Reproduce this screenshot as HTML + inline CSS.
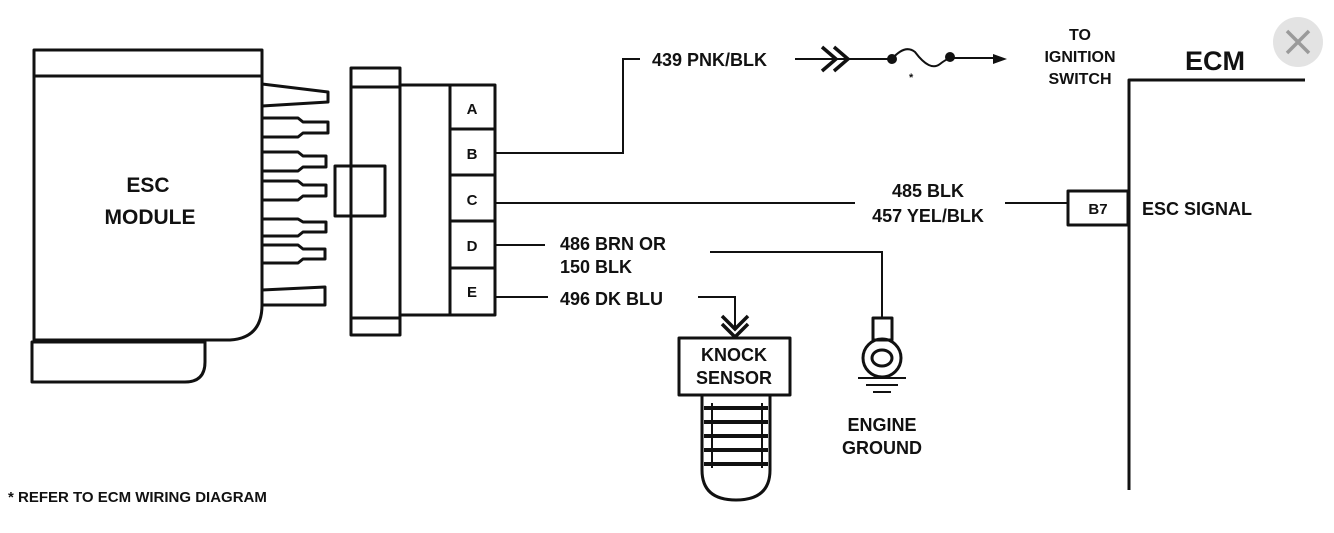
<!DOCTYPE html>
<html><head><style>
html,body{margin:0;padding:0;background:#fff;}
svg{display:block;}
text{font-family:"Liberation Sans",sans-serif;font-weight:bold;fill:#111;}
</style></head><body>
<svg width="1334" height="533" viewBox="0 0 1334 533" xmlns="http://www.w3.org/2000/svg">
<g fill="none" stroke="#111" stroke-width="3" stroke-linejoin="round">
<rect x="34" y="50" width="228" height="26"/>
<path d="M34 76 H262 V305 Q262 338 230 340 H34 Z"/>
<path d="M32 342 H205 V362 Q205 382 185 382 H32 Z"/>
<path d="M262 84 L328 92 V102 L262 106"/>
<path d="M262 118 H298 L303 122 H328 V133 H303 L298 137 H262"/>
<path d="M262 152 H298 L303 156 H326 V167 H303 L298 171 H262"/>
<path d="M262 181 H298 L303 185 H326 V196 H303 L298 200 H262"/>
<path d="M262 219 H298 L303 222 H326 V232 H303 L298 236 H262"/>
<path d="M262 245 H298 L303 249 H325 V259 H303 L298 263 H262"/>
<path d="M262 290 L325 287 V305 L262 305"/>
<rect x="351" y="68" width="49" height="267"/>
<line x1="351" y1="87" x2="400" y2="87"/>
<line x1="351" y1="318" x2="400" y2="318"/>
<rect x="335" y="166" width="50" height="50"/>
<rect x="400" y="85" width="95" height="230"/>
<line x1="450" y1="85" x2="450" y2="315"/>
<line x1="450" y1="129" x2="495" y2="129"/>
<line x1="450" y1="175" x2="495" y2="175"/>
<line x1="450" y1="221" x2="495" y2="221"/>
<line x1="450" y1="268" x2="495" y2="268"/>
<path d="M1129 490 V80 H1305"/>
<rect x="1068" y="191" width="60" height="34"/>
<rect x="679" y="338" width="111" height="57"/>
<path d="M702 395 V470 Q702 500 736 500 Q770 500 770 470 V395"/>
<path d="M704 408 H768 M704 422 H768 M704 436 H768 M704 450 H768 M704 464 H768" stroke-width="4"/>
<path d="M712 403 V468 M762 403 V468" stroke-width="2"/>
<rect x="873" y="318" width="19" height="22"/>
<circle cx="882" cy="358" r="19"/>
<ellipse cx="882" cy="358" rx="10" ry="8"/>
</g>
<g fill="none" stroke="#111" stroke-width="2">
<path d="M495 153 H623 V59 H640"/>
<path d="M795 59 H890"/>
<path d="M822 47 L836 59 L822 71 M834 47 L848 59 L834 71" stroke-width="3.5"/>
<path d="M892 59 Q905 44 915 52 Q930 72 940 64 Q945 60 950 58 H1000"/>
<path d="M495 203 H855 M1005 203 H1068"/>
<path d="M495 245 H545 M710 252 H882 V318"/>
<path d="M495 297 H548 M698 297 H735 V330"/>
<path d="M722 316 L735 329 L748 316 M722 324 L735 337 L748 324" stroke-width="3.5"/>
<path d="M858 378 H906 M866 385 H898 M873 392 H891"/>
</g>
<circle cx="892" cy="59" r="5" fill="#111"/>
<circle cx="950" cy="57" r="5" fill="#111"/>
<path d="M1007 59 L993 54 L993 64 Z" fill="#111"/>
<g font-size="18">
<text x="148" y="192" text-anchor="middle" font-size="21">ESC</text>
<text x="150" y="224" text-anchor="middle" font-size="21">MODULE</text>
<text x="472" y="114" text-anchor="middle" font-size="15">A</text>
<text x="472" y="159" text-anchor="middle" font-size="15">B</text>
<text x="472" y="205" text-anchor="middle" font-size="15">C</text>
<text x="472" y="251" text-anchor="middle" font-size="15">D</text>
<text x="472" y="297" text-anchor="middle" font-size="15">E</text>
<text x="652" y="66">439 PNK/BLK</text>
<text x="909" y="81" font-size="11">*</text>
<text x="1080" y="40" text-anchor="middle" font-size="16">TO</text>
<text x="1080" y="62" text-anchor="middle" font-size="16">IGNITION</text>
<text x="1080" y="84" text-anchor="middle" font-size="16">SWITCH</text>
<text x="1185" y="70" font-size="27">ECM</text>
<text x="928" y="197" text-anchor="middle">485 BLK</text>
<text x="928" y="222" text-anchor="middle">457 YEL/BLK</text>
<text x="1098" y="214" text-anchor="middle" font-size="15">B7</text>
<text x="1142" y="215">ESC SIGNAL</text>
<text x="560" y="250">486 BRN OR</text>
<text x="560" y="273">150 BLK</text>
<text x="560" y="305">496 DK BLU</text>
<text x="734" y="361" text-anchor="middle">KNOCK</text>
<text x="734" y="384" text-anchor="middle">SENSOR</text>
<text x="882" y="431" text-anchor="middle">ENGINE</text>
<text x="882" y="454" text-anchor="middle">GROUND</text>
<text x="8" y="502" font-size="15">* REFER TO ECM WIRING DIAGRAM</text>
</g>
<circle cx="1298" cy="42" r="25" fill="#e3e3e3"/>
<path d="M1287 31 L1309 53 M1309 31 L1287 53" stroke="#9a9a9a" stroke-width="3.5"/>
</svg>
</body></html>
